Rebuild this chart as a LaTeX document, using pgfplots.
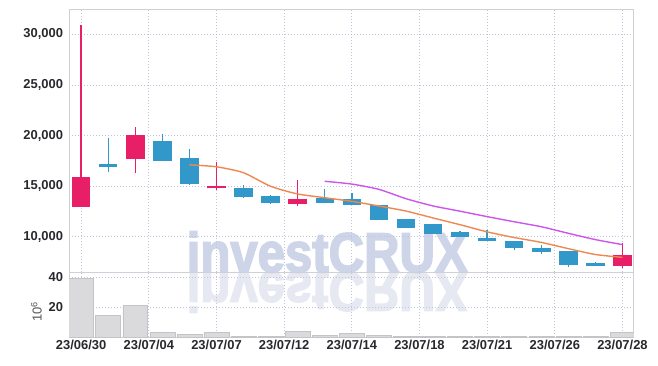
\documentclass[border=0pt]{standalone}
\usepackage{pgfplots}
\pgfplotsset{compat=1.18}
\usepackage{pgfplotstable}
\usepackage{fontspec}
\setmainfont{Liberation Sans}
\newfontfamily\wmfont[BoldFeatures={FakeBold=3}]{Liberation Sans}
\definecolor{cred}{RGB}{232,30,102}
\definecolor{cblue}{RGB}{50,152,202}
\definecolor{cma5}{RGB}{238,136,80}
\definecolor{cma10}{RGB}{204,85,236}
\definecolor{cgrid}{RGB}{192,198,218}
\definecolor{cframe}{RGB}{208,208,214}
\definecolor{cwm}{RGB}{206,213,232}
\definecolor{cwm2}{RGB}{230,233,242}
\definecolor{cvol}{RGB}{218,218,221}
\definecolor{cvolb}{RGB}{195,195,200}
\definecolor{ctext}{RGB}{40,40,45}

\pgfplotstableread{
i open close low high
0 12900 15850 12900 30950
2 17700 20050 16250 20800
5 14780 14960 14650 17400
8 13250 13700 13000 15600
20 7050 8150 6900 9350
}\up
\pgfplotstableread{
i open close low high
1 17150 16900 16350 19800
3 19500 17500 17450 20200
4 17800 15200 15100 18650
6 14850 13950 13800 15100
7 14000 13350 13200 14100
9 13800 13350 13300 14750
10 13750 13100 13100 14300
11 13100 11650 11600 13100
12 11700 10850 10850 11750
13 11200 10300 10300 11200
14 10450 10000 9950 10600
15 9850 9550 9550 10650
16 9600 8850 8650 9600
17 8900 8450 8300 9150
18 8600 7200 7000 8600
19 7350 7100 7100 7500
}\down

\pgfplotsset{
  common/.style={
    scale only axis,
    xmin=-0.45, xmax=20.4,
    xtick={0,2.5,5,7.5,10,12.5,15,17.5,20},
    major tick length=0pt,
    grid=major,
    major grid style={draw=cgrid, line width=0.7bp, dash pattern=on 1bp off 2bp},
    axis line style={draw=cframe, line width=0.8bp},
    tick label style={font=\fontsize{13}{13}\selectfont\bfseries, text=ctext},
    yticklabel style={xshift=-2.5bp},
    /pgf/number format/assume math mode=true,
  },
  candle/.style 2 args={draw=none, mark=none, forget plot,
    error bars/.cd, y dir=plus, y explicit, error mark=none,
    error bar style={draw=#1, line width=#2}},
}

\begin{document}
\begin{tikzpicture}
\useasboundingbox (0,0) rectangle (658bp,-366bp);
% watermark
\node[anchor=base west, inner sep=0, text=cwm2] at (186.5bp,-272bp) {\scalebox{1}[-1]{\resizebox{281bp}{40.5bp}{\wmfont\bfseries investCRUX}}};
\node[anchor=base west, inner sep=0, text=cwm] at (186.5bp,-272bp) {\resizebox{281bp}{40.5bp}{\wmfont\bfseries investCRUX}};

\begin{axis}[common,
  at={(69bp,-9bp)}, anchor=north west,
  width=564.3bp, height=263bp,
  ymin=6500, ymax=32520,
  ytick={10000,15000,20000,25000,30000},
  xticklabels={},
  yticklabel style={/pgf/number format/1000 sep={,}},
  scaled y ticks=false,
]
% wicks
\addplot[candle={cred}{1.4bp}]
  table[x=i, y=low, y error expr=\thisrow{high}-\thisrow{low}] {\up};
\addplot[candle={cblue}{1.4bp}]
  table[x=i, y=low, y error expr=\thisrow{high}-\thisrow{low}] {\down};
% bodies
\addplot[candle={cred}{18.5bp}]
  table[x=i, y=open, y error expr=\thisrow{close}-\thisrow{open}] {\up};
\addplot[candle={cblue}{18.5bp}]
  table[x=i, y=close, y error expr=\thisrow{open}-\thisrow{close}] {\down};
% moving averages
\addplot[cma5, line width=1.4bp, smooth, tension=0.4] coordinates {
(4,17100) (5,16910) (6,16320) (7,14980) (8,14220) (9,13850) (10,13490)
(11,13030) (12,12530) (13,11850) (14,11180) (15,10470) (16,9910)
(17,9430) (18,8810) (19,8230) (20,7950)};
\addplot[cma10, line width=1.4bp, smooth, tension=0.4] coordinates {
(9,15475) (10,15200) (11,14675) (12,13755) (13,13035) (14,12515)
(15,11980) (16,11470) (17,10980) (18,10330) (19,9705) (20,9210)};
\end{axis}

\begin{axis}[common,
  at={(69bp,-272bp)}, anchor=north west,
  width=564.3bp, height=65bp,
  ymin=0, ymax=43.3,
  ytick={20,40},
  xticklabels={23/06/30,23/07/04,23/07/07,23/07/12,23/07/14,23/07/18,23/07/21,23/07/26,23/07/28},
  ylabel={10\textsuperscript{6}},
  ylabel style={font=\fontsize{13}{13}\selectfont, text=ctext!80, xshift=-7bp},
]
\addplot[ybar, bar width=24.9bp, bar shift=0pt, fill=cvol, draw=cvolb, line width=0.6bp] coordinates {
(0,38.9) (1,14.3) (2,21.1) (3,3.1) (4,1.8) (5,3.1) (6,0.5) (7,0.5) (8,3.8)
(9,1.1) (10,2.2) (11,1.0) (12,0.3) (13,0.3) (14,0.3) (15,0.3) (16,0.3)
(17,0.3) (18,0.3) (19,0.3) (20,2.9)};
\end{axis}
\end{tikzpicture}
\end{document}
